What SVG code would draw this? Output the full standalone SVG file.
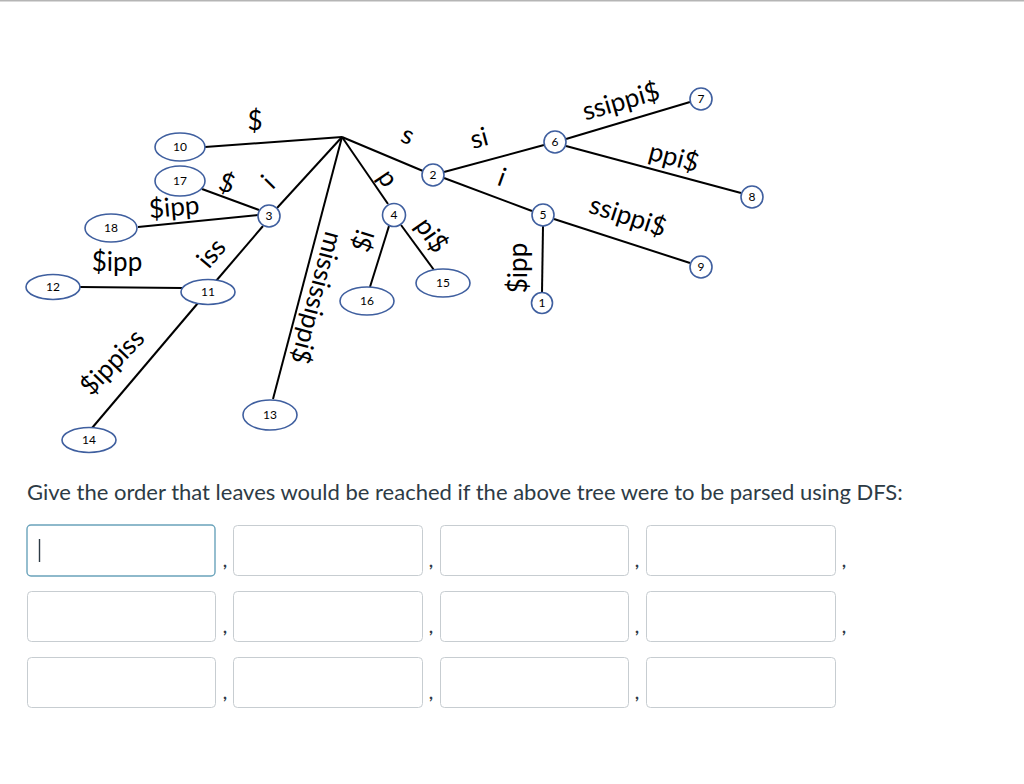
<svg xmlns="http://www.w3.org/2000/svg" width="1024" height="784" viewBox="0 0 1024 784">
<style>
.e{stroke:#000;stroke-width:2;fill:none}
.n{fill:#fff;stroke:#3f5f9f;stroke-width:1.6}
.nt{font-family:Lato,"Liberation Sans",sans-serif;font-size:12px;fill:#000;text-anchor:middle}
.l{font-family:Lato,"Liberation Sans",sans-serif;font-size:26px;fill:#000;text-anchor:middle}
.q{font-family:Lato,"Liberation Sans",sans-serif;font-size:22px;fill:#2d3b45}
.box{fill:#fff;stroke:#c7cdd1;stroke-width:1}
.c{font-family:Lato,"Liberation Sans",sans-serif;font-size:17px;font-weight:bold;fill:#2d3b45}
</style>
<rect x="0" y="0" width="1024" height="784" fill="#fff"/>
<rect x="0" y="0" width="1024" height="1.5" fill="#b5b5b5"/>
<g id="connectors">
<line class="e" x1="342" y1="137" x2="205" y2="147"/>
<line class="e" x1="342" y1="137" x2="277" y2="208"/>
<line class="e" x1="342" y1="137" x2="273" y2="399"/>
<line class="e" x1="342" y1="137" x2="388" y2="204"/>
<line class="e" x1="342" y1="137" x2="423" y2="171"/>
<line class="e" x1="202" y1="189" x2="259" y2="210"/>
<line class="e" x1="138" y1="227" x2="258" y2="215"/>
<line class="e" x1="263" y1="226" x2="216" y2="281"/>
<line class="e" x1="80" y1="287" x2="182" y2="288"/>
<line class="e" x1="198" y1="303" x2="92" y2="428"/>
<line class="e" x1="389" y1="226" x2="370" y2="287"/>
<line class="e" x1="401" y1="225" x2="434" y2="270"/>
<line class="e" x1="444" y1="172" x2="544" y2="145"/>
<line class="e" x1="444" y1="178" x2="532" y2="211"/>
<line class="e" x1="566" y1="139" x2="690" y2="102"/>
<line class="e" x1="566" y1="146" x2="741" y2="193"/>
<line class="e" x1="554" y1="219" x2="690" y2="263"/>
<line class="e" x1="543" y1="226" x2="542" y2="293"/>
</g>
<g id="labels">
<text class="l" transform="translate(255,121)" y="9">$</text>
<text class="l" transform="translate(227,183) rotate(18)" y="9">$</text>
<text class="l" transform="translate(268,182) rotate(-45)" y="9">i</text>
<text class="l" transform="translate(174,207) rotate(-5)" y="9">$ipp</text>
<text class="l" transform="translate(117,262)" y="9">$ipp</text>
<text class="l" transform="translate(211,253) rotate(-50)" y="9">iss</text>
<text class="l" transform="translate(112,362) rotate(-46)" y="9">$ippiss</text>
<text class="l" transform="translate(317,298) rotate(105)" y="9">mississippi$</text>
<text class="l" transform="translate(408,135) rotate(23)" y="9">s</text>
<text class="l" transform="translate(388,178) rotate(56)" y="9">p</text>
<text class="l" transform="translate(363,241) rotate(-73)" y="9">$i</text>
<text class="l" transform="translate(432,235) rotate(55)" y="9">pi$</text>
<text class="l" transform="translate(479,138) rotate(-15)" y="9">si</text>
<text class="l" transform="translate(502,177) rotate(20)" y="9">i</text>
<text class="l" transform="translate(621,101) rotate(-16)" y="9">ssippi$</text>
<text class="l" transform="translate(674,157) rotate(15)" y="9">ppi$</text>
<text class="l" transform="translate(628,216) rotate(18)" y="9">ssippi$</text>
<text class="l" transform="translate(518,268) rotate(-90)" y="9">$ipp</text>
</g>
<g id="n10"><ellipse class="n" cx="180" cy="147" rx="25" ry="14"/><text class="nt" x="180" y="151">10</text></g>
<g id="n17"><ellipse class="n" cx="180" cy="181" rx="25" ry="15"/><text class="nt" x="180" y="185">17</text></g>
<g id="n18"><ellipse class="n" cx="111" cy="228" rx="26" ry="14"/><text class="nt" x="111" y="232">18</text></g>
<g id="n12"><ellipse class="n" cx="53" cy="287" rx="27" ry="12.5"/><text class="nt" x="53" y="291">12</text></g>
<g id="n11"><ellipse class="n" cx="208" cy="292" rx="27" ry="12.5"/><text class="nt" x="208" y="296">11</text></g>
<g id="n3"><circle class="n" cx="269" cy="216" r="11"/><text class="nt" x="269" y="220">3</text></g>
<g id="n14"><ellipse class="n" cx="89" cy="440" rx="27" ry="12.5"/><text class="nt" x="89" y="444">14</text></g>
<g id="n13"><ellipse class="n" cx="270" cy="415" rx="27" ry="15"/><text class="nt" x="270" y="419">13</text></g>
<g id="n16"><ellipse class="n" cx="367" cy="301" rx="27" ry="14"/><text class="nt" x="367" y="305">16</text></g>
<g id="n15"><ellipse class="n" cx="443" cy="283" rx="27" ry="14"/><text class="nt" x="443" y="287">15</text></g>
<g id="n4"><circle class="n" cx="394" cy="215" r="11.5"/><text class="nt" x="394" y="219">4</text></g>
<g id="n2"><circle class="n" cx="433" cy="175" r="11"/><text class="nt" x="433" y="179">2</text></g>
<g id="n6"><circle class="n" cx="555" cy="142" r="11"/><text class="nt" x="555" y="146">6</text></g>
<g id="n5"><circle class="n" cx="543" cy="215" r="11"/><text class="nt" x="543" y="219">5</text></g>
<g id="n1"><circle class="n" cx="542" cy="303" r="10.5"/><text class="nt" x="542" y="307">1</text></g>
<g id="n7"><circle class="n" cx="701" cy="99" r="11"/><text class="nt" x="701" y="103">7</text></g>
<g id="n8"><circle class="n" cx="752" cy="197" r="11"/><text class="nt" x="752" y="201">8</text></g>
<g id="n9"><circle class="n" cx="701" cy="267" r="11"/><text class="nt" x="701" y="271">9</text></g>
<g id="question">
<text class="q" x="27" y="500">Give the order that leaves would be reached if the above tree were to be parsed using DFS:</text>
</g>
<g id="inputs">
<rect class="box" x="27" y="525" width="188" height="51" rx="4" style="stroke:#6aa3bb;stroke-width:1.4"/>
<line x1="39.5" y1="539" x2="39.5" y2="562" stroke="#2d3b45" stroke-width="1.4"/>
<rect class="box" x="233.5" y="525.5" width="189" height="50" rx="4"/>
<rect class="box" x="440.5" y="525.5" width="188" height="50" rx="4"/>
<rect class="box" x="646.5" y="525.5" width="189" height="50" rx="4"/>
<rect class="box" x="27.5" y="591.5" width="188" height="50" rx="4"/>
<rect class="box" x="233.5" y="591.5" width="189" height="50" rx="4"/>
<rect class="box" x="440.5" y="591.5" width="188" height="50" rx="4"/>
<rect class="box" x="646.5" y="591.5" width="189" height="50" rx="4"/>
<rect class="box" x="27.5" y="657.5" width="188" height="50" rx="4"/>
<rect class="box" x="233.5" y="657.5" width="189" height="50" rx="4"/>
<rect class="box" x="440.5" y="657.5" width="188" height="50" rx="4"/>
<rect class="box" x="646.5" y="657.5" width="189" height="50" rx="4"/>
<text class="c" x="223" y="567">,</text>
<text class="c" x="429" y="567">,</text>
<text class="c" x="635" y="567">,</text>
<text class="c" x="842" y="567">,</text>
<text class="c" x="223" y="633">,</text>
<text class="c" x="429" y="633">,</text>
<text class="c" x="635" y="633">,</text>
<text class="c" x="842" y="633">,</text>
<text class="c" x="223" y="699">,</text>
<text class="c" x="429" y="699">,</text>
<text class="c" x="635" y="699">,</text>
</g>
</svg>
